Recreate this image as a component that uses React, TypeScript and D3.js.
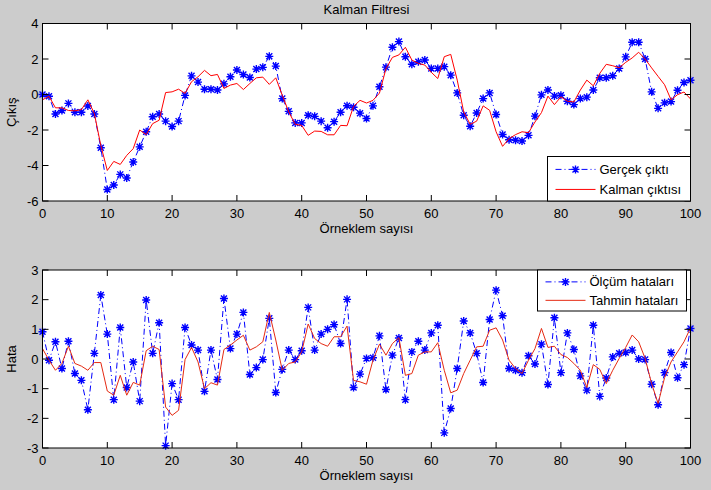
import React from 'react';
import * as d3 from 'd3';

// sample index 0..100
const samples = d3.range(0, 101);

// Gerçek çıktı (true output)
const trueOut = [
  0.0, -0.1, -1.1, -0.9, -0.5, -1.0, -1.0, -0.65, -1.1, -3.0,
  -5.35, -5.1, -4.5, -4.7, -3.8, -2.95, -2.1, -1.25, -1.1, -1.5,
  -1.8, -1.5, -0.05, 1.05, 0.7, 0.3, 0.3, 0.25, 0.6, 1.0,
  1.38, 1.13, 0.96, 1.43, 1.53, 2.15, 1.6, -0.23, -0.95, -1.6,
  -1.6, -1.17, -1.23, -1.5, -1.87, -1.53, -1.0, -0.63, -0.72, -1.05,
  -1.35, -0.64, 0.44, 1.54, 2.66, 2.98, 2.13, 1.7, 1.85, 1.94,
  1.47, 1.47, 1.57, 1.09, 0.09, -1.17, -1.79, -1.04, -0.23, 0.09,
  -1.13, -2.25, -2.55, -2.58, -2.62, -2.3, -1.22, -0.02, 0.25, -0.09,
  -0.04, -0.38, -0.57, -0.23, -0.15, 0.25, 0.94, 0.94, 1.06, 1.47,
  2.12, 2.94, 2.94, 2.0, 0.15, -0.78, -0.47, -0.4, 0.24, 0.68,
  0.8,
];

// Kalman çıktısı (filter output)
const kalmanOut = [
  -0.3, -0.1, -0.75, -0.75, -0.9, -0.92, -0.85, -0.3, -1.07, -2.87,
  -4.28, -3.77, -3.94, -3.43, -3.05, -2.0, -2.26, -1.64, -1.45, 0.11,
  0.15, 0.3, 0.06, 0.72, 1.0, 1.36, 1.06, 1.13, 0.34, 0.53,
  0.62, 0.28, 0.62, 0.94, 0.98, 0.57, 0.94, -0.04, -0.98, -1.68,
  -1.74, -2.3, -2.06, -2.08, -2.27, -2.27, -1.74, -1.76, -0.67, -0.33,
  -0.48, -0.33, 0.08, 1.45, 2.09, 2.23, 2.66, 1.94, 1.75, 1.66,
  1.25, 0.9, 2.13, 2.26, 0.81, -0.98, -1.68, -1.5, -0.64, -0.89,
  -2.1, -2.92, -2.49, -2.26, -2.1, -2.15, -1.55, -1.02, -0.09, -0.57,
  -0.13, -0.38, -0.42, 0.25, 0.81, 0.49, 1.19, 1.7, 1.62, 1.51,
  1.81, 2.06, 2.38, 2.0, 1.5, 1.02, 0.55, -0.3, -0.01, 0.14,
  -0.25,
];

// Ölçüm hataları (measurement errors)
const measErr = [
  0.92, -0.04, 0.58, -0.32, 0.6, -0.49, -0.72, -1.71, 0.19, 2.16,
  0.84, -1.37, 1.06, -0.96, -0.1, -1.42, 1.99, 0.19, 1.22, -2.92,
  -0.83, -1.37, 1.06, 0.47, 0.3, -1.09, 0.3, -0.69, 2.04, 0.35,
  0.84, 1.57, -0.52, -0.29, -0.02, 1.37, -1.13, -0.35, 0.3, -0.02,
  0.28, 1.74, 0.3, 0.84, 1.0, 1.16, 0.52, 2.01, -0.96, -0.51,
  0.02, 0.04, 0.78, -1.03, 0.13, 0.71, -1.37, 0.24, 0.6, 0.3,
  0.88, 1.14, -2.49, -1.67, -0.32, 1.28, 0.88, 0.19, -0.79, 1.33,
  2.32, 1.46, -0.32, -0.38, -0.46, 0.11, -0.17, 0.5, -0.86, 1.39,
  -0.46, 0.88, 0.32, -0.57, -1.05, 1.14, -1.26, -0.64, 0.07, 0.19,
  0.22, 0.3, 0.0, -0.02, -0.85, -1.54, -0.46, 0.22, -0.63, -0.19,
  1.03,
];

// Tahmin hataları (estimation errors)
const estErr = [
  0.35, -0.04, -0.38, -0.15, 0.43, -0.15, -0.24, -0.38, -0.12, -0.12,
  -1.08, -1.22, -0.55, -1.22, -0.79, -0.88, 0.28, 0.43, 0.32, -1.62,
  -1.9, -1.73, -0.02, 0.39, -0.1, -1.0, -0.8, -0.88, 0.32, 0.47,
  0.64, 0.8, 0.3, 0.41, 0.58, 1.57, 0.64, -0.38, -0.15, -0.1,
  0.24, 1.18, 0.69, 0.52, 0.43, 0.75, 0.75, 1.11, -0.72, -0.77,
  -0.85, -0.04, 0.5, 0.13, 0.52, 0.72, -0.55, -0.49, 0.13, 0.24,
  0.24, 0.55, -0.38, -1.14, -1.05, -0.49, -0.04, 0.41, 0.43, 0.97,
  1.05, 0.64, -0.04, -0.32, -0.49, -0.04, 0.35, 1.03, 0.39, 0.43,
  0.15, 0.05, -0.15, -0.38, -0.96, -0.19, -0.35, -0.83, -0.38, 0.02,
  0.39, 0.81, 0.58, 0.02, -0.83, -1.5, -0.63, -0.1, 0.24, 0.58,
  1.05,
];

const xTicks = d3.range(0, 101, 10);
const topYTicks = [-6, -4, -2, 0, 2, 4];
const bottomYTicks = [-3, -2, -1, 0, 1, 2, 3];

const FONT = '"Liberation Sans", Arial, sans-serif';
const BLUE = '#0000ff';
const RED = '#ff0000';
const RED2 = '#e52a12';
const DASHDOT = '6,3,1,3';
const TICK = 6;

const starPath = (r = 4, d = 3) =>
  `M0,${-r}V${r}M${-r},0H${r}M${-d},${-d}L${d},${d}M${-d},${d}L${d},${-d}`;

type PanelProps = {
  top: number;
  bottom: number;
  yDomain: [number, number];
  yTicks: number[];
  yLabel: string;
  blue: number[];
  red: number[];
  redColor: string;
  legend: { x: number; y: number; w: number; h: number; labels: [string, string] };
};

const Panel = ({ top, bottom, yDomain, yTicks, yLabel, blue, red, redColor, legend }: PanelProps) => {
  const left = 42.5;
  const right = 690.5;
  const x = d3.scaleLinear().domain([0, 100]).range([left, right]);
  const y = d3.scaleLinear().domain(yDomain).range([bottom, top]);

  const line = d3.line<number>()
    .x((_, i) => x(samples[i]))
    .y(d => y(d));

  const row1 = legend.y + legend.h * 0.29;
  const row2 = legend.y + legend.h * 0.74;

  return (
    <g>
      <rect x={left} y={top} width={right - left} height={bottom - top} fill="#fff" />

      {/* data */}
      <path d={line(blue) || ''} fill="none" stroke={BLUE} strokeWidth={1} strokeDasharray={DASHDOT} />
      {blue.map((v, i) => (
        <path key={i} d={starPath()} transform={`translate(${x(samples[i])},${y(v)})`}
          stroke={BLUE} strokeWidth={1.4} fill="none" />
      ))}
      <path d={line(red) || ''} fill="none" stroke={redColor} strokeWidth={1} />

      {/* axes box and ticks */}
      <rect x={left} y={top} width={right - left} height={bottom - top} fill="none" stroke="#000" strokeWidth={1} />
      {xTicks.map(t => (
        <g key={'x' + t}>
          <line x1={x(t)} x2={x(t)} y1={bottom} y2={bottom - TICK} stroke="#000" />
          <line x1={x(t)} x2={x(t)} y1={top} y2={top + TICK} stroke="#000" />
          <text x={x(t)} y={bottom + 16.5} textAnchor="middle" fontSize={13}>{t}</text>
        </g>
      ))}
      {yTicks.map(t => (
        <g key={'y' + t}>
          <line x1={left} x2={left + TICK} y1={y(t)} y2={y(t)} stroke="#000" />
          <line x1={right} x2={right - TICK} y1={y(t)} y2={y(t)} stroke="#000" />
          <text x={left - 4} y={y(t) + 4.5} textAnchor="end" fontSize={13}>{t}</text>
        </g>
      ))}

      <text x={(left + right) / 2} y={bottom + 32} textAnchor="middle" fontSize={13}>Örneklem sayısı</text>
      <text transform={`translate(16,${(top + bottom) / 2}) rotate(-90)`} textAnchor="middle" fontSize={13}>{yLabel}</text>

      {/* legend */}
      <rect x={legend.x} y={legend.y} width={legend.w} height={legend.h} fill="#fff" stroke="#000" />
      <line x1={legend.x + 8} x2={legend.x + 48} y1={row1} y2={row1} stroke={BLUE} strokeDasharray={DASHDOT} />
      <path d={starPath()} transform={`translate(${legend.x + 28},${row1})`} stroke={BLUE} strokeWidth={1.4} fill="none" />
      <text x={legend.x + 52} y={row1 + 4.5} fontSize={13}>{legend.labels[0]}</text>
      <line x1={legend.x + 8} x2={legend.x + 48} y1={row2} y2={row2} stroke={redColor} />
      <text x={legend.x + 52} y={row2 + 4.5} fontSize={13}>{legend.labels[1]}</text>
    </g>
  );
};

export default function App() {
  return (
    <svg width={711} height={490} style={{ position: 'absolute', left: 0, top: 0, background: '#cccccc' }}
      fontFamily={FONT}>
      <rect width={711} height={490} fill="#cccccc" />
      <text x={366.5} y={14} textAnchor="middle" fontSize={13}>Kalman Filtresi</text>
      <Panel top={23.5} bottom={201} yDomain={[-6, 4]} yTicks={topYTicks} yLabel="Çıkış"
        blue={trueOut} red={kalmanOut} redColor={RED}
        legend={{ x: 547.5, y: 156.5, w: 143, h: 44.5, labels: ['Gerçek çıktı', 'Kalman çıktısı'] }} />
      <Panel top={270} bottom={448} yDomain={[-3, 3]} yTicks={bottomYTicks} yLabel="Hata"
        blue={measErr} red={estErr} redColor={RED2}
        legend={{ x: 537.5, y: 270, w: 149, h: 41, labels: ['Ölçüm hataları', 'Tahmin hataları'] }} />
    </svg>
  );
}
